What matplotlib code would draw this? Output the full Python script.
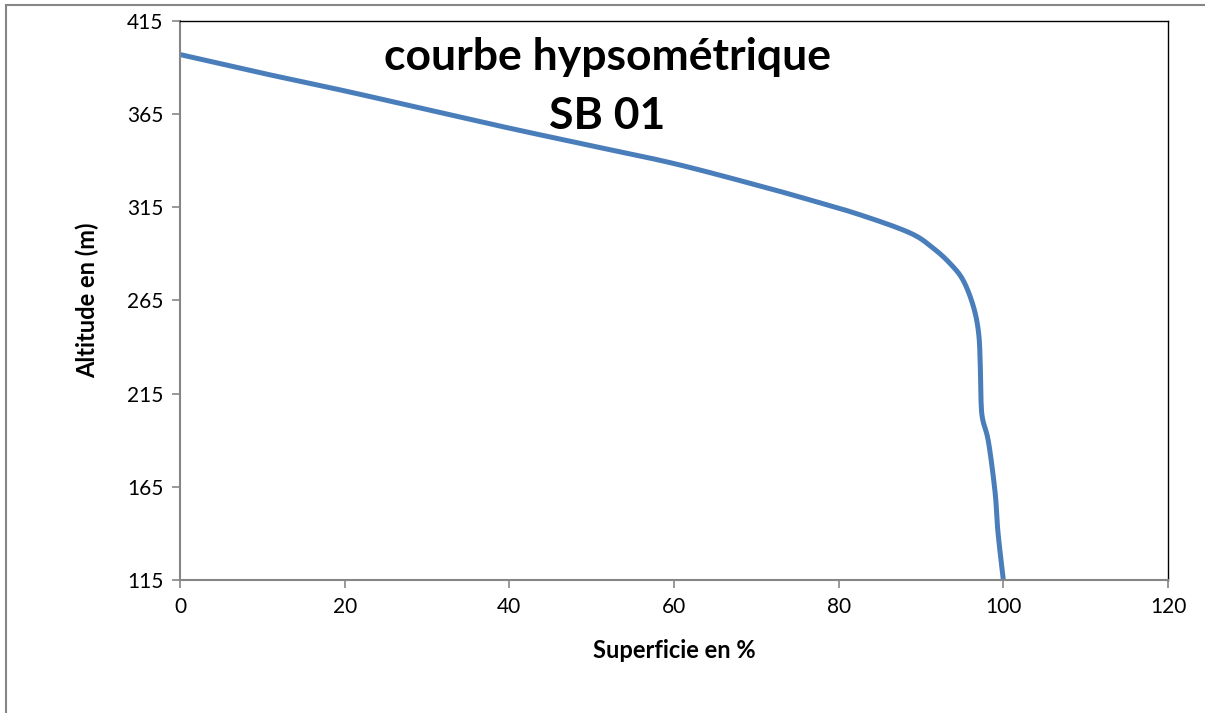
import numpy as np
import matplotlib.pyplot as plt
from matplotlib.patches import Rectangle

# hypsometric curve values
superficie = [0, 10, 20, 30, 40, 50, 60, 70, 76.5, 82.6, 88.7, 91.5, 93.5, 95.1,
              96.35, 97.0, 97.2, 97.3, 97.5, 98.2, 99.0, 99.35, 100]
altitude = [397, 387, 377.5, 367.5, 357.5, 348, 338.5, 327, 319, 311, 301.2, 293,
            285, 276, 262, 247.5, 230, 210, 201, 189, 162, 140.5, 115]
y_ticks = [115, 165, 215, 265, 315, 365, 415]
x_ticks = [0, 20, 40, 60, 80, 100, 120]


def smooth_line(x, y, n=20):
    # Excel-like "smoothed line" (Catmull-Rom), only for drawing
    p = np.column_stack([x, y]).astype(float)
    p = np.vstack([p[0], p, p[-1]])
    out = []
    t = np.linspace(0, 1, n, endpoint=False)[:, None]
    for i in range(1, len(p) - 2):
        p0, p1, p2, p3 = p[i-1], p[i], p[i+1], p[i+2]
        seg = 0.5 * ((2*p1) + (-p0 + p2)*t + (2*p0 - 5*p1 + 4*p2 - p3)*t**2
                     + (-p0 + 3*p1 - 3*p2 + p3)*t**3)
        out.append(seg)
    out.append(p[-2][None, :])
    out = np.vstack(out)
    return out[:, 0], out[:, 1]


plt.rcParams['font.family'] = ['Lato', 'DejaVu Sans']

fig = plt.figure(figsize=(12.05, 7.13), dpi=100)
ax = fig.add_axes([180/1205, 1-580/713, (1168-180)/1205, (580-21)/713])

xs, ys = smooth_line(superficie, altitude)
ax.plot(xs, ys, color='#4a7ebb', lw=3.6, solid_capstyle='butt')

ax.set_xlim(0, 120)
ax.set_ylim(115, 415)
ax.set_xticks(x_ticks)
ax.set_yticks(y_ticks)
ax.tick_params(axis='both', direction='out', length=6, width=1.2, color='#868686',
               labelsize=15, pad=6)

for s in ['left', 'bottom']:
    ax.spines[s].set_color('#868686')
    ax.spines[s].set_linewidth(1.5)
for s in ['top', 'right']:
    ax.spines[s].set_color('black')
    ax.spines[s].set_linewidth(1.0)

ax.set_xlabel('Superficie en %', fontsize=17, fontweight='bold', labelpad=16)
ax.set_ylabel('Altitude en (m)', fontsize=17, fontweight='bold', labelpad=20)

fig.text(607/1205, 1-57/713, 'courbe hypsométrique', ha='center', va='center',
         fontsize=32, fontweight='bold')
fig.text(607/1205, 1-116/713, 'SB 01', ha='center', va='center',
         fontsize=32, fontweight='bold')

# outer chart border
fig.patches.append(Rectangle((6/1205, -0.1), 1.2, 1-5/713+0.1, transform=fig.transFigure,
                             fill=False, edgecolor='#868686', lw=1.5))

fig.savefig('out.png', dpi=100)
